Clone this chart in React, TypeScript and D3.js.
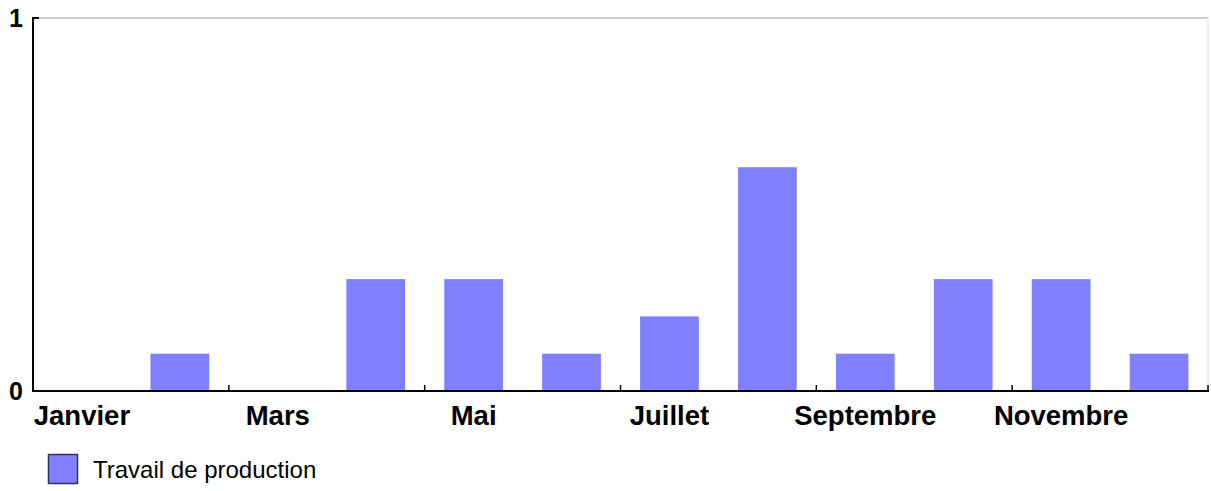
import * as d3 from 'd3';

const months = ['Janvier', 'Février', 'Mars', 'Avril', 'Mai', 'Juin', 'Juillet', 'Août', 'Septembre', 'Octobre', 'Novembre', 'Décembre'];
const values = [0, 0.1, 0, 0.3, 0.3, 0.1, 0.2, 0.6, 0.1, 0.3, 0.3, 0.1];
const yTicks = [0, 1];
const seriesName = 'Travail de production';

const W = 1211;
const H = 491;
const margin = { top: 18, right: 3, bottom: 100, left: 33 };

export default function App() {
  const x = d3.scaleBand<string>()
    .domain(months)
    .range([margin.left, W - margin.right])
    .paddingInner(0.4)
    .paddingOuter(0.2);
  const y = d3.scaleLinear().domain([0, 1]).range([H - margin.bottom, margin.top]);
  const y0 = y(0);
  const step = x.step();
  const left = margin.left;
  const right = W - margin.right;
  // ticks every second category boundary
  const bounds = d3.range(2, months.length + 1, 2).map(i => left + i * step);
  const font = '"Liberation Sans", Arial, sans-serif';

  return (
    <div style={{ position: 'absolute', left: 0, top: 0 }}>
      <svg width={W} height={H} style={{ display: 'block', background: '#fff' }}>
        {/* frame */}
        <line x1={left} x2={right} y1={y(1)} y2={y(1)} stroke="#cccccc" strokeWidth={2} />
        <line x1={right} x2={right} y1={y(1)} y2={y0} stroke="#eeeeee" strokeWidth={2} />

        {/* bars */}
        {months.map((m, i) => (
          <rect key={m} x={x(m)} y={y(values[i])} width={x.bandwidth()} height={y0 - y(values[i])} fill="#8080ff" />
        ))}

        {/* axes */}
        <line x1={left} x2={left} y1={y(1) - 1} y2={y0 + 1} stroke="#000" strokeWidth={2} />
        <line x1={left} x2={left + 6} y1={y(1)} y2={y(1)} stroke="#000" strokeWidth={2} />
        <line x1={left} x2={right + 1} y1={y0} y2={y0} stroke="#000" strokeWidth={2} />
        {bounds.map(b => (
          <line key={b} x1={b} x2={b} y1={y0} y2={y0 - 6} stroke="#000" strokeWidth={1.5} />
        ))}

        {yTicks.map(t => (
          <text key={t} x={16} y={y(t)} dy="0.36em" textAnchor="middle" fontFamily={font} fontWeight="bold" fontSize={25} fill="#000">{t}</text>
        ))}

        {months.map((m, i) => i % 2 === 0 ? (
          <text key={m} x={(x(m) ?? 0) + x.bandwidth() / 2} y={425} textAnchor="middle" fontFamily={font} fontWeight="bold" fontSize={27.5} fill="#000">{m}</text>
        ) : null)}

        {/* legend */}
        <rect x={48.5} y={454.5} width={29} height={29} fill="#8080ff" stroke="#333366" strokeWidth={1.5} />
        <text x={93} y={478} fontFamily={font} fontSize={24} fill="#000">{seriesName}</text>
      </svg>
    </div>
  );
}
